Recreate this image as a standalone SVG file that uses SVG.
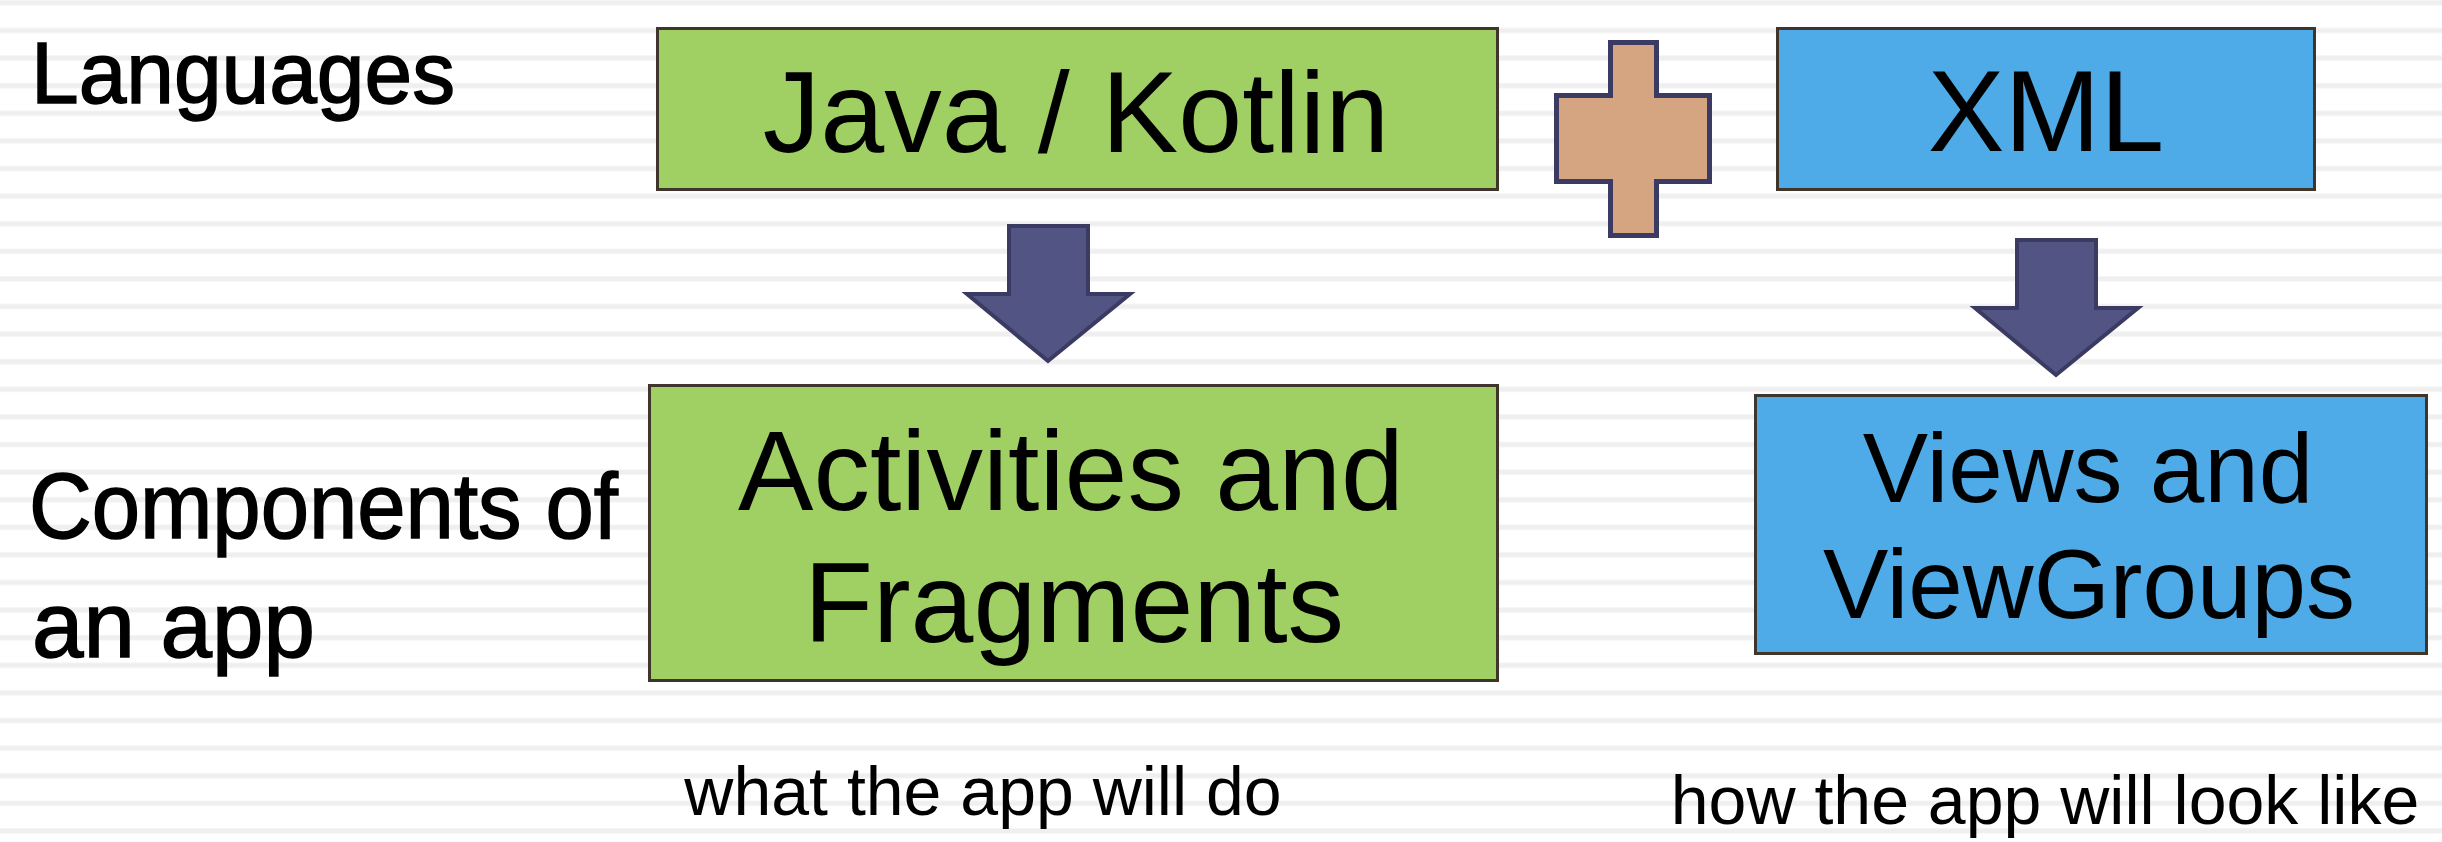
<svg xmlns="http://www.w3.org/2000/svg" width="2442" height="842" viewBox="0 0 2442 842">
<style>
.lbl{font-family:"Liberation Sans",Arial,sans-serif;fill:#000}
.side{stroke:#000;stroke-width:1.5}
.green{fill:#a0cf63;stroke:#40352a;stroke-width:3}
.blue{fill:#4fabe8;stroke:#40352a;stroke-width:3}
.arrow{fill:#525584;stroke:#3b3a63;stroke-width:4;stroke-linejoin:miter}
.plus{fill:#d5a582;stroke:#3b3a63;stroke-width:5}
</style>
<defs>
<pattern id="stripes" patternUnits="userSpaceOnUse" x="0" y="0" width="2442" height="27.6">
<rect x="0" y="0.4" width="2442" height="5" fill="#efefef"/>
</pattern>
</defs>
<rect width="2442" height="842" fill="#ffffff"/>
<rect width="2442" height="842" fill="url(#stripes)"/>
<g id="label-languages"><text class="lbl side" x="31" y="103" font-size="88" textLength="424" lengthAdjust="spacingAndGlyphs">Languages</text></g>
<g id="label-components"><text class="lbl side" x="29" y="538" font-size="92" textLength="589" lengthAdjust="spacingAndGlyphs">Components of</text><text class="lbl side" x="32" y="657" font-size="92" textLength="283" lengthAdjust="spacingAndGlyphs">an app</text></g>
<g id="node-java"><rect class="green" x="657.5" y="28.5" width="840" height="161"/><text class="lbl" x="1076" y="152" font-size="115" text-anchor="middle">Java / Kotlin</text></g>
<g id="node-plus"><path class="plus" d="M1610.5 42.5H1656.5V95.5H1709.5V181.5H1656.5V235.5H1610.5V181.5H1556.5V95.5H1610.5Z"/></g>
<g id="node-xml"><rect class="blue" x="1777.5" y="28.5" width="537" height="161"/><text class="lbl" x="2046" y="151" font-size="115" text-anchor="middle">XML</text></g>
<g id="node-activities"><rect class="green" x="649.5" y="385.5" width="848" height="295"/><text class="lbl" x="1071" y="510" font-size="113" text-anchor="middle">Activities and</text><text class="lbl" x="1074" y="642" font-size="113" text-anchor="middle">Fragments</text></g>
<g id="node-views"><rect class="blue" x="1755.5" y="395.5" width="671" height="258"/><text class="lbl" x="2088" y="502" font-size="98" text-anchor="middle">Views and</text><text class="lbl" x="2089" y="618" font-size="98" text-anchor="middle">ViewGroups</text></g>
<g id="note-what"><text class="lbl" x="983" y="815" font-size="68" text-anchor="middle">what the app will do</text></g>
<g id="note-how"><text class="lbl" x="2045" y="824" font-size="68" text-anchor="middle">how the app will look like</text></g>
<g id="connectors">
<path class="arrow" d="M1009 226H1088V294H1130L1048 361L967 294H1009Z"/>
<path class="arrow" d="M2017 240H2096V308H2138L2056 375L1975 308H2017Z"/>
</g>
</svg>
